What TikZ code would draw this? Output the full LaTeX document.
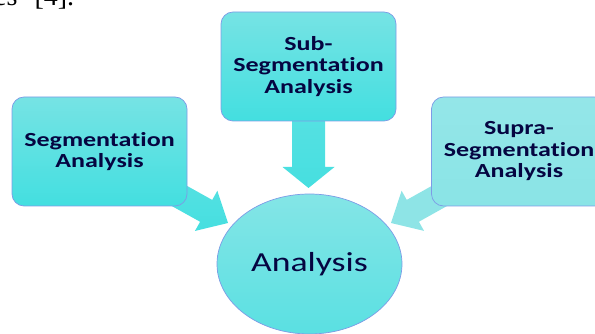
\documentclass[tikz,border=0pt]{standalone}
\usepackage{fontspec}
\usetikzlibrary{shapes.geometric,calc}
\newfontfamily\bxfont[FakeStretch=1.3,RawFeature=-liga]{Carlito}
\newfontfamily\refont{Liberation Serif}
\definecolor{boxtop}{RGB}{118,227,228}
\definecolor{boxbot}{RGB}{67,223,224}
\definecolor{lighttop}{RGB}{148,230,232}
\definecolor{lightbot}{RGB}{138,228,230}
\definecolor{elltop}{RGB}{132,229,230}
\definecolor{ellbot}{RGB}{90,224,226}
\definecolor{arrtop}{RGB}{96,226,227}
\definecolor{arrbot}{RGB}{70,223,224}
\definecolor{arrlight}{RGB}{142,228,230}
\definecolor{edge}{RGB}{125,155,230}
\definecolor{navy}{RGB}{5,5,65}
\pgfdeclarelayer{bg}
\pgfsetlayers{bg,main}
\newcommand\fatarrow[3]{%
  \coordinate (fab) at ($(#2)!25pt!(#1)$);
  \path[#3] ($(#1)!12.5pt!90:(#2)$) -- ($(fab)!12.5pt!-90:(#1)$) -- ($(fab)!23pt!-90:(#1)$)
    -- (#2) -- ($(fab)!23pt!90:(#1)$) -- ($(fab)!12.5pt!90:(#1)$) -- ($(#1)!12.5pt!-90:(#2)$) -- cycle;}
\begin{document}
\begin{tikzpicture}[x=1pt,y=-1pt,
  boxnode/.style={rectangle, rounded corners=12pt, draw=edge, line width=0.7pt,
    top color=boxtop, bottom color=boxbot, minimum width=175pt, minimum height=109pt,
    inner sep=0pt, align=center, text=navy,
    font=\bxfont\bfseries\fontsize{20}{21.5}\selectfont},
  lightbox/.style={boxnode, top color=lighttop, bottom color=lightbot},
  centre/.style={ellipse, draw=edge, line width=0.7pt, top color=elltop, bottom color=ellbot,
    minimum width=185pt, minimum height=140pt, inner sep=0pt, text=navy,
    font=\bxfont\fontsize{27.5}{30}\selectfont},
  blockarrow/.style={top color=arrtop, bottom color=arrbot},
  lightarrow/.style={fill=arrlight}]
\useasboundingbox (0,0) rectangle (595,334);
\clip (0,0) rectangle (595,334);
\node[anchor=base west, font=\refont\fontsize{28}{30}\selectfont, inner sep=0pt] (cite) at (-6,6) {es\hspace{17pt}[4].};
\node[boxnode] (seg) at (99.5,151.5) {Segmentation\\Analysis};
\node[boxnode] (sub) at (308.5,66.5) {Sub-\\Segmentation\\Analysis};
\node[lightbox] (supra) at (519,151.5) {Supra-\\Segmentation\\Analysis};
\node[centre] (ana) at (309.5,264) {Analysis};
\coordinate (tipL) at (228,223);
\coordinate (tipR) at (391,223);
\coordinate (tipD) at (308.5,188);
\begin{pgfonlayer}{bg}
\fatarrow{seg.center}{tipL}{blockarrow}
\fatarrow{supra.center}{tipR}{lightarrow}
\coordinate (fab) at ($(tipD)!21pt!(sub.center)$);
\path[blockarrow] ($(sub.center)!16.5pt!90:(tipD)$) -- ($(fab)!16.5pt!-90:(sub.center)$) -- ($(fab)!26pt!-90:(sub.center)$)
  -- (tipD) -- ($(fab)!26pt!90:(sub.center)$) -- ($(fab)!16.5pt!90:(sub.center)$) -- ($(sub.center)!16.5pt!-90:(tipD)$) -- cycle;
\end{pgfonlayer}
\end{tikzpicture}
\end{document}
